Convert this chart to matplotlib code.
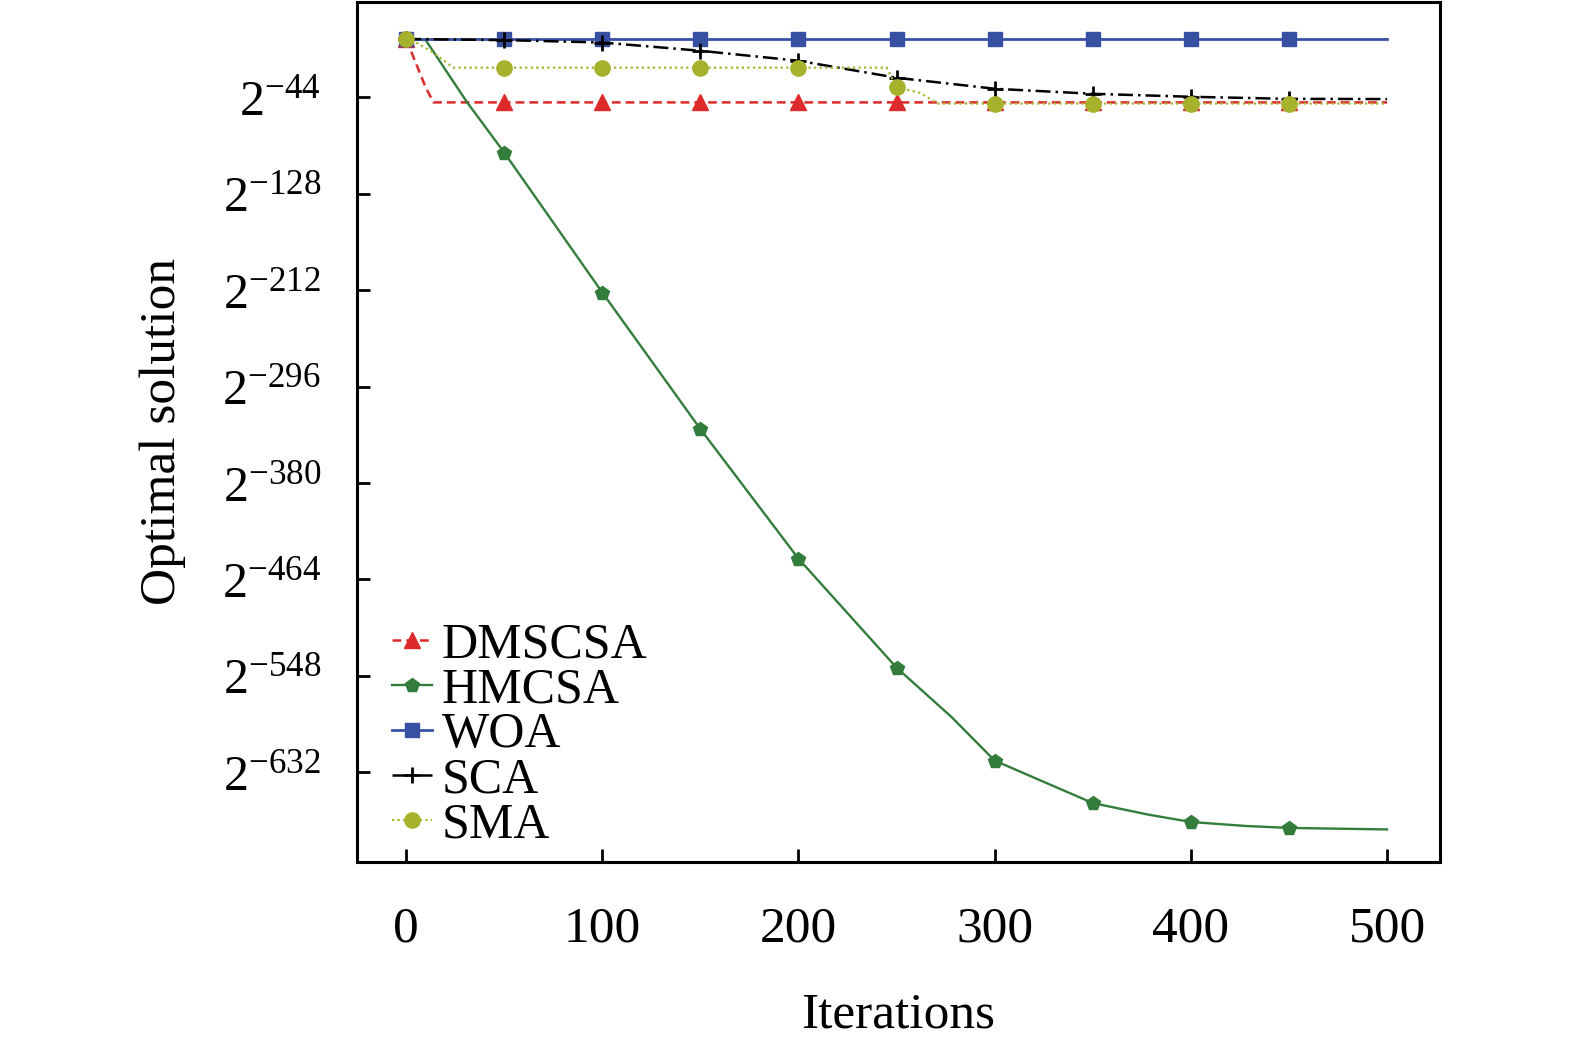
import numpy as np
import matplotlib
matplotlib.use('Agg')
import matplotlib.pyplot as plt
from matplotlib.ticker import FixedLocator, FuncFormatter, NullLocator

#
# fonts
#
plt.rcParams['font.family'] = ['Liberation Serif', 'DejaVu Serif']
plt.rcParams['mathtext.fontset'] = 'custom'
plt.rcParams['mathtext.rm'] = 'Liberation Serif'
plt.rcParams['mathtext.it'] = 'Liberation Serif:italic'
plt.rcParams['mathtext.bf'] = 'Liberation Serif:bold'
fs = 36

#
# data : iterations and log2 of the best value
#
dmscsa_it = [0, 10, 14, 50, 100, 150, 200, 250, 300, 350, 400, 450, 500]
dmscsa_e = [7, -35.3, -48.3, -48.3, -48.3, -48.3, -48.3, -48.3, -48.3, -48.3, -48.3, -48.3, -48.3]

hmcsa_it = [0, 10, 31, 50, 100, 150, 200, 250, 278, 300, 327, 350, 378, 400, 428, 450, 500]
hmcsa_e = [7, 6, -48, -92, -214, -333, -446, -541, -584, -622, -642, -659, -669, -675.5, -679, -680.7, -682]

woa_it = [0, 50, 100, 150, 200, 250, 300, 350, 400, 450, 500]
woa_e = [7, 7, 7, 7, 7, 7, 7, 7, 7, 7, 7]

sca_it = [0, 50, 100, 150, 200, 250, 300, 350, 400, 450, 500]
sca_e = [7, 6, 3.9, -3.3, -12.0, -26.8, -36.4, -40.8, -43.4, -45.2, -45.4]

sma_it = [0, 2, 14, 24, 50, 100, 150, 200, 245, 250, 262, 271, 300, 350, 400, 450, 500]
sma_e = [7, 7, -5, -18, -18, -18, -18, -18, -18, -35, -40, -49.3, -49.3, -49.3, -49.3, -49.3, -49.3]

ytick_e = [-44, -128, -212, -296, -380, -464, -548, -632]
xticks = [0, 100, 200, 300, 400, 500]


def marks(it):
    return [i for i, v in enumerate(it) if v % 50 == 0 and v < 500]


fig = plt.figure(figsize=(15.75, 10.46), dpi=100)
ax = fig.add_axes([0.2267, 0.1759, 0.6876, 0.8225])

ax.plot(dmscsa_it, 2.0 ** np.array(dmscsa_e), color='#dd2a2a', lw=1.8,
        ls=(0, (3.5, 2)), marker='^', ms=11, markevery=marks(dmscsa_it),
        label='DMSCSA')
ax.plot(hmcsa_it, 2.0 ** np.array(hmcsa_e), color='#337d3c', lw=1.7,
        ls='-', marker='p', ms=10, markevery=marks(hmcsa_it), label='HMCSA')
ax.plot(woa_it, 2.0 ** np.array(woa_e), color='#3850a2', lw=2.0,
        ls='-', marker='s', ms=10, markevery=marks(woa_it), label='WOA')
ax.plot(sca_it, 2.0 ** np.array(sca_e), color='black', lw=1.8,
        ls=(0, (6, 2, 1, 2)), marker='+', ms=12, mew=2,
        markevery=marks(sca_it), label='SCA')
ax.plot(sma_it, 2.0 ** np.array(sma_e), color='#a6b22c', lw=1.6,
        ls=(0, (1, 1.5)), marker='o', ms=11, markevery=marks(sma_it),
        label='SMA')

ax.set_yscale('log', base=2)
ax.set_ylim(2.0 ** -710.4, 2.0 ** 39.5)
ax.set_xlim(-25, 527)

ax.yaxis.set_major_locator(FixedLocator([2.0 ** e for e in ytick_e]))
ax.yaxis.set_minor_locator(NullLocator())
ax.yaxis.set_major_formatter(FuncFormatter(
    lambda v, p: r'$\mathregular{2^{%d}}$' % int(round(np.log2(v)))))
ax.set_xticks(xticks)

for s in ax.spines.values():
    s.set_linewidth(2.2)
ax.tick_params(direction='in', length=9.5, width=2.0, labelsize=fs,
               top=False, right=False)
ax.tick_params(axis='y', pad=26)
ax.tick_params(axis='x', pad=32, labelsize=37)

ax.set_xlabel('Iterations', fontsize=fs + 1, labelpad=28)
ax.set_ylabel('Optimal solution', fontsize=fs + 1, labelpad=26)

ax.legend(loc='lower left', bbox_to_anchor=(0.032, 0.016), frameon=False,
          fontsize=fs, borderaxespad=0, borderpad=0, labelspacing=-0.03,
          handlelength=0.8, handletextpad=0.2, numpoints=1)

plt.savefig('out.png', dpi=100, facecolor='w')
